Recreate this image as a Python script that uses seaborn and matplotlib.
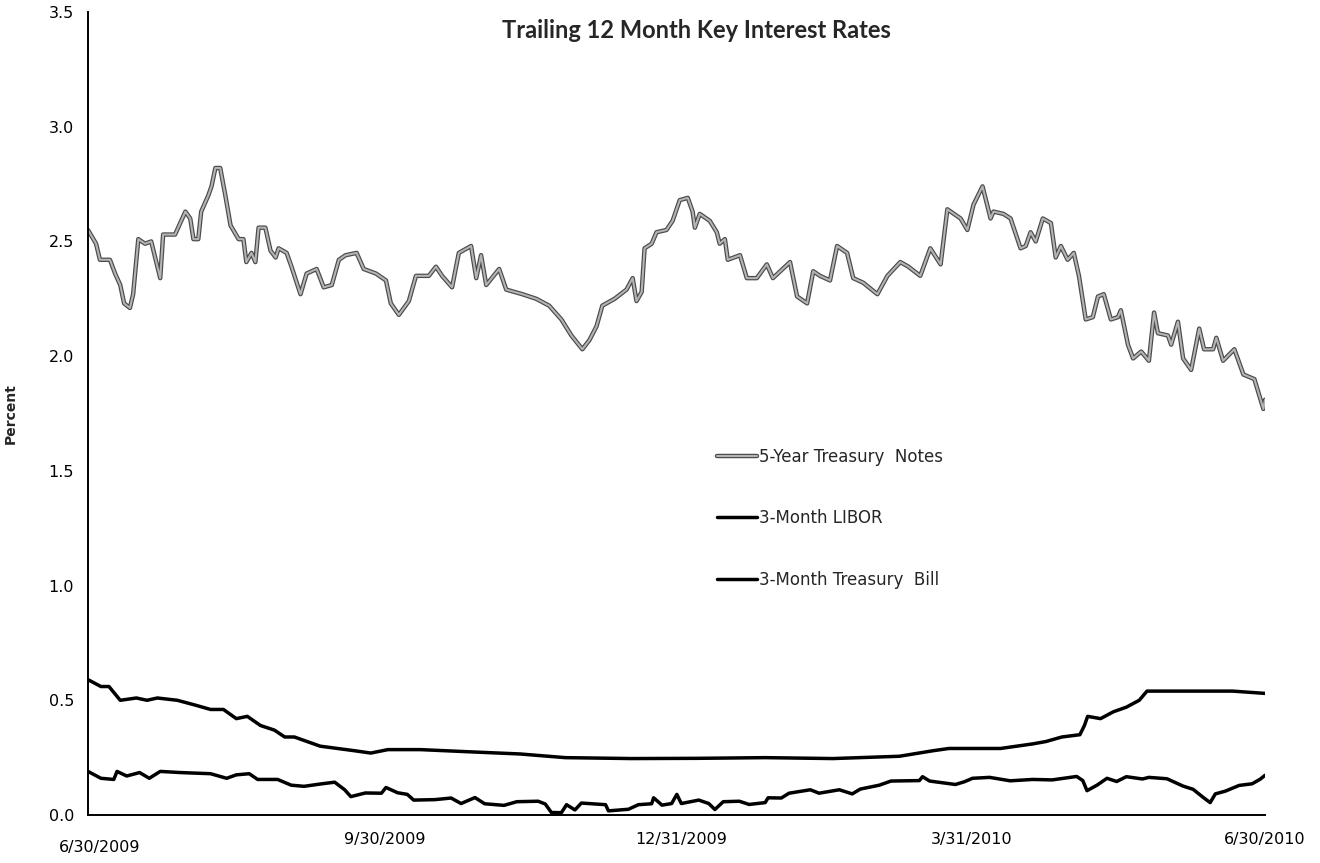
import pandas as pd
import matplotlib
matplotlib.use("Agg")
import matplotlib.pyplot as plt
import matplotlib.patheffects as pe
import matplotlib.transforms as mtransforms
import seaborn as sns

# Data (days after 6/30/2009, rate in percent)
notes_days = [0, 2.5, 3.7, 6.8, 8.4, 10, 11.2, 13, 14, 15.6, 17.7, 19.6, 22.4, 23.3, 27, 30.2,
              31.7, 32.7, 34.2, 35.1, 37.3, 38.3, 39.5, 41, 42.6, 44.2, 46.7, 48.2, 49.1, 50.7,
              51.9, 52.9, 55, 56.6, 58.2, 59.1, 61.6, 63.1, 65.9, 67.8, 70.9, 73.1, 75.6, 77.8,
              79.9, 83.3, 85.5, 89.3, 92.4, 93.9, 96.4, 99.5, 101.7, 105.7, 107.9, 109.8, 112.9,
              115, 118.8, 120.4, 121.9, 123.5, 127.5, 129.7, 134.7, 139, 143, 146.8, 149.9, 153.3,
              155.5, 157.7, 159.5, 163.3, 167, 168.9, 170.1, 171.7, 172.6, 174.8, 176.3, 179.4,
              181.3, 183.5, 186, 187.5, 188.2, 189.7, 192.8, 195, 195.9, 197.5, 198.4, 202.2,
              204.3, 207.4, 210.5, 212.4, 217.7, 219.9, 223, 224.9, 227, 230.1, 232.3, 235.4,
              237.3, 240.4, 244.8, 247.9, 251.9, 254.4, 258.1, 261.2, 264.4, 266.5, 270.6, 272.7,
              274.6, 277.4, 279.9, 280.8, 283.9, 286.1, 289.2, 290.8, 292.3, 293.9, 296.1, 298.6,
              300.1, 301.7, 303.8, 305.7, 307.3, 309.4, 311.6, 313.2, 315, 317.2, 319.4, 320.3,
              322.5, 324.1, 326.6, 329, 330.6, 331.8, 334.9, 335.9, 338, 339.6, 342.1, 344.6,
              346.1, 348.9, 349.9, 352, 355.5, 358.3, 361.7, 364.5, 365]
notes_rate = [2.55, 2.49, 2.42, 2.42, 2.36, 2.31, 2.23, 2.21, 2.27, 2.51, 2.49, 2.50, 2.34, 2.53,
              2.53, 2.63, 2.60, 2.51, 2.51, 2.63, 2.70, 2.74, 2.82, 2.82, 2.70, 2.57, 2.51, 2.51,
              2.41, 2.45, 2.41, 2.56, 2.56, 2.46, 2.43, 2.47, 2.45, 2.39, 2.27, 2.36, 2.38, 2.30,
              2.31, 2.42, 2.44, 2.45, 2.38, 2.36, 2.33, 2.23, 2.18, 2.24, 2.35, 2.35, 2.39, 2.35,
              2.30, 2.45, 2.48, 2.34, 2.44, 2.31, 2.38, 2.29, 2.27, 2.25, 2.22, 2.16, 2.09, 2.03,
              2.07, 2.13, 2.22, 2.25, 2.29, 2.34, 2.24, 2.28, 2.47, 2.49, 2.54, 2.55, 2.59, 2.68,
              2.69, 2.63, 2.56, 2.62, 2.59, 2.54, 2.49, 2.51, 2.42, 2.44, 2.34, 2.34, 2.40, 2.34,
              2.41, 2.26, 2.23, 2.37, 2.35, 2.33, 2.48, 2.45, 2.34, 2.32, 2.27, 2.35, 2.41, 2.39,
              2.35, 2.47, 2.40, 2.64, 2.60, 2.55, 2.66, 2.74, 2.60, 2.63, 2.62, 2.60, 2.47, 2.48,
              2.54, 2.50, 2.60, 2.58, 2.43, 2.48, 2.42, 2.45, 2.35, 2.16, 2.17, 2.26, 2.27, 2.16,
              2.17, 2.20, 2.05, 1.99, 2.02, 1.98, 2.19, 2.10, 2.09, 2.05, 2.15, 1.99, 1.94, 2.12,
              2.03, 2.03, 2.08, 1.98, 2.03, 1.92, 1.90, 1.77, 1.81]

libor_days = [0, 4, 6.5, 10, 15, 18.3, 21.5, 27.7, 33, 38, 42, 46, 49.4, 53.5, 57.8, 61, 64, 68,
              72, 82.7, 87.7, 93, 103, 119, 134, 148, 168.6, 189, 210, 231, 251.6, 262, 267, 272,
              283, 293, 297, 302, 307.6, 309, 310, 314, 318, 322, 326, 328.4, 334.6, 355, 365]
libor_rate = [0.59, 0.56, 0.56, 0.50, 0.51, 0.50, 0.51, 0.50, 0.48, 0.46, 0.46, 0.42, 0.43, 0.39,
              0.37, 0.34, 0.34, 0.32, 0.30, 0.28, 0.27, 0.285, 0.285, 0.275, 0.266, 0.25, 0.246,
              0.247, 0.25, 0.246, 0.256, 0.28, 0.29, 0.29, 0.29, 0.31, 0.32, 0.34, 0.35, 0.39,
              0.43, 0.42, 0.45, 0.47, 0.50, 0.54, 0.54, 0.54, 0.53]

bill_days = [0, 4, 8, 9, 12, 16, 19, 22.4, 28.6, 38, 43, 46, 50, 52.6, 58.8, 63, 67, 72, 76.5,
             79.6, 81.5, 86, 91, 92.4, 96, 99, 101, 107.6, 112.6, 115.7, 120, 123, 129, 133,
             139.6, 141.8, 143.7, 146.8, 148.4, 151, 153, 160.5, 161.4, 167.6, 170.7, 174.8,
             175.4, 178, 181, 182.6, 184, 189.4, 192.5, 194.4, 197, 202, 205, 210, 210.9, 215,
             217.4, 224, 226.7, 233, 237, 239.5, 245.4, 249, 257.8, 258.8, 261, 269, 271.8,
             274.3, 279.6, 286, 293, 299, 306.6, 308.5, 309.8, 312.9, 316, 319, 322, 327, 329,
             334.6, 339.6, 342.7, 345.9, 348, 349.6, 352.7, 357, 361, 363.5, 365]
bill_rate = [0.19, 0.16, 0.155, 0.19, 0.17, 0.185, 0.16, 0.19, 0.185, 0.18, 0.16, 0.175, 0.18,
             0.155, 0.155, 0.13, 0.125, 0.135, 0.143, 0.11, 0.08, 0.096, 0.095, 0.12, 0.097,
             0.09, 0.065, 0.067, 0.074, 0.05, 0.076, 0.049, 0.042, 0.058, 0.06, 0.048, 0.011,
             0.01, 0.045, 0.022, 0.052, 0.045, 0.018, 0.025, 0.045, 0.049, 0.075, 0.043, 0.05,
             0.09, 0.05, 0.065, 0.05, 0.024, 0.058, 0.06, 0.046, 0.054, 0.075, 0.074, 0.095,
             0.11, 0.095, 0.11, 0.092, 0.113, 0.13, 0.148, 0.15, 0.167, 0.148, 0.133, 0.145,
             0.16, 0.164, 0.149, 0.155, 0.153, 0.168, 0.15, 0.106, 0.13, 0.16, 0.146, 0.167,
             0.157, 0.164, 0.158, 0.126, 0.112, 0.076, 0.054, 0.092, 0.104, 0.129, 0.136,
             0.156, 0.173]

tick_dates = ["2009-06-30", "2009-09-30", "2009-12-31", "2010-03-31", "2010-06-30"]
tick_labels = ["6/30/2009", "9/30/2009", "12/31/2009", "3/31/2010", "6/30/2010"]
y_ticks = [0.0, 0.5, 1.0, 1.5, 2.0, 2.5, 3.0, 3.5]
series_names = ["5-Year Treasury  Notes", "3-Month LIBOR", "3-Month Treasury  Bill"]

start = pd.Timestamp("2009-06-30")


def make_frame(days, rates):
    return pd.DataFrame({"date": start + pd.to_timedelta(days, unit="D"), "rate": rates})


notes = make_frame(notes_days, notes_rate)
libor = make_frame(libor_days, libor_rate)
bill = make_frame(bill_days, bill_rate)

sns.set_style("white")
plt.rcParams["font.family"] = ["DejaVu Sans"]
plt.rcParams["font.sans-serif"] = ["DejaVu Sans"]

fig = plt.figure(figsize=(13.2, 8.63), dpi=100)
ax = fig.add_axes([88 / 1320, 1 - 815 / 863, (1265 - 88) / 1320, (815 - 12) / 863])

notes_outline = [pe.Stroke(linewidth=3.2, foreground="#4a4a4a"), pe.Normal()]

sns.lineplot(data=notes, x="date", y="rate", ax=ax, color="#b4b4b4", lw=1.5,
             estimator=None, label=series_names[0])
sns.lineplot(data=libor, x="date", y="rate", ax=ax, color="black", lw=2.5,
             estimator=None, label=series_names[1])
sns.lineplot(data=bill, x="date", y="rate", ax=ax, color="black", lw=2.5,
             estimator=None, label=series_names[2])
ax.lines[0].set_path_effects(notes_outline)

ax.set_xlim(pd.Timestamp(tick_dates[0]), pd.Timestamp(tick_dates[-1]))
ax.set_ylim(0, 3.5)
ax.set_xticks(pd.to_datetime(tick_dates))
ax.set_xticklabels(tick_labels, fontfamily="DejaVu Sans")
ax.set_yticks(y_ticks)
ax.set_yticklabels([f"{v:.1f}" for v in y_ticks], fontfamily="DejaVu Sans")
ax.tick_params(axis="both", labelsize=11.5, colors="black", length=4, width=1,
               direction="out")
ax.tick_params(axis="x", pad=8)
ax.tick_params(axis="y", pad=6)

# the first date label sits a little lower and to the right in the original
first = ax.get_xticklabels()[0]
first.set_transform(first.get_transform() +
                    mtransforms.ScaledTranslation(0.12, -0.08, fig.dpi_scale_trans))

for side in ["top", "right"]:
    ax.spines[side].set_visible(False)
for side in ["left", "bottom"]:
    ax.spines[side].set_color("black")
    ax.spines[side].set_linewidth(1.4)

ax.set_xlabel("")
ax.set_ylabel("Percent", fontsize=10, fontweight="bold", fontfamily="DejaVu Sans")
ax.yaxis.set_label_coords((18 - 88) / 1177, 0.5)

fig.text(696 / 1320, 1 - 31 / 863, "Trailing 12 Month Key Interest Rates",
         ha="center", va="center", fontsize=17, fontweight="bold", family="Lato")

handles, labels = ax.get_legend_handles_labels()
leg = ax.legend(handles, labels, loc="upper left", frameon=False,
                prop={"family": "DejaVu Sans", "size": 12},
                bbox_to_anchor=(717 / 1320, 1 - 448 / 863), bbox_transform=fig.transFigure,
                borderpad=0, borderaxespad=0, handlelength=2.4, handletextpad=0.1,
                labelspacing=2.6)
leg.legend_handles[0].set_path_effects(notes_outline)

fig.savefig("out.png", dpi=100, facecolor="white")
